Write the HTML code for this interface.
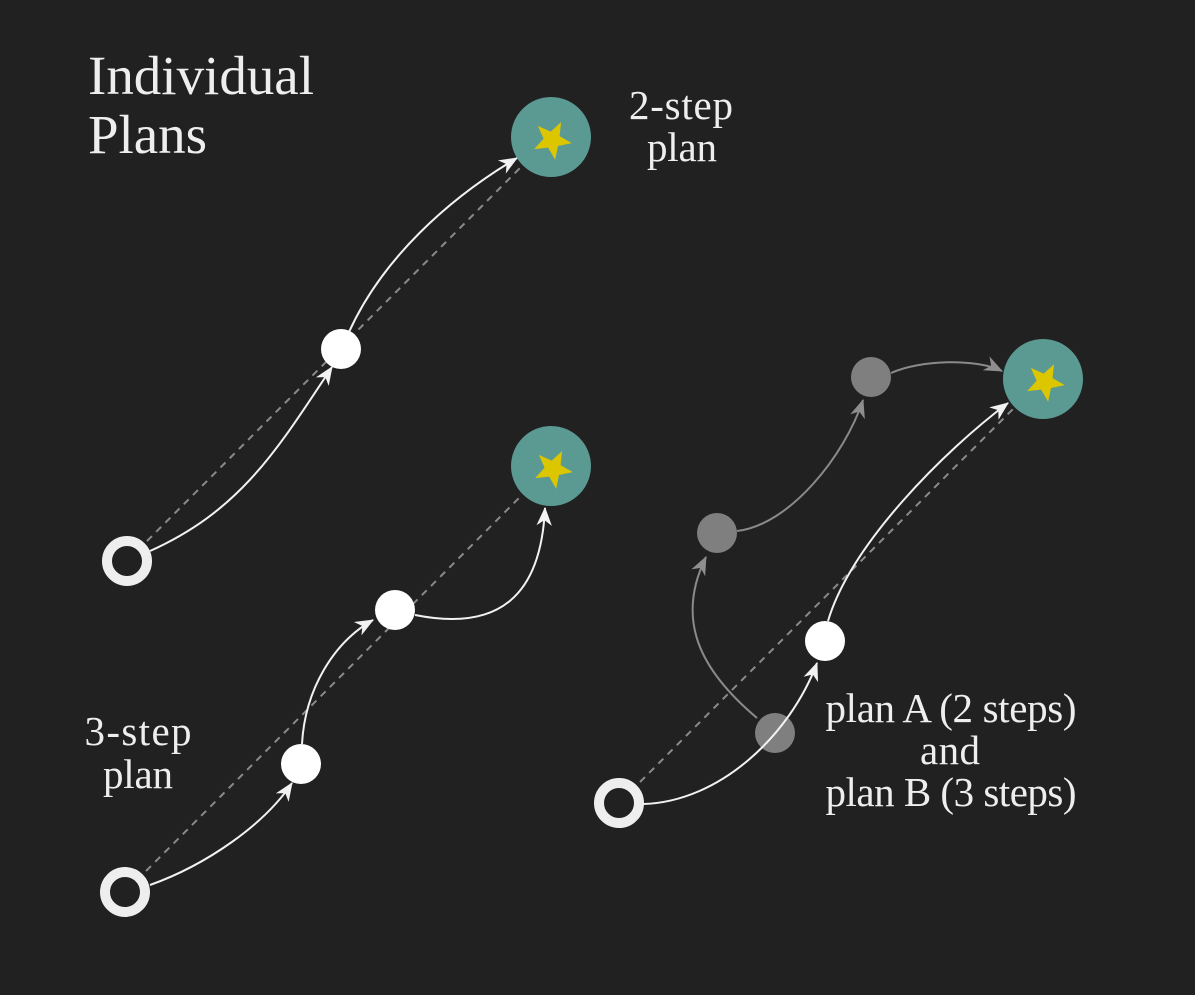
<!DOCTYPE html>
<html>
<head>
<meta charset="utf-8">
<style>
  html, body { margin:0; padding:0; background:#212121; }
  body { width:1195px; height:995px; overflow:hidden; }
  svg { display:block; }
  text { font-family: "Liberation Serif", serif; fill:#eeeeee; }
</style>
</head>
<body>
<svg width="1195" height="995" viewBox="0 0 1195 995" xmlns="http://www.w3.org/2000/svg">
  <defs>
    <marker id="aw" markerWidth="22" markerHeight="22" refX="0" refY="0" viewBox="-18 -9 20 18" markerUnits="userSpaceOnUse" orient="auto">
      <path d="M1,0 L-16,-7 L-11,0 L-16,7 Z" fill="#f2f2f2"/>
    </marker>
    <marker id="ag" markerWidth="22" markerHeight="22" refX="0" refY="0" viewBox="-18 -9 20 18" markerUnits="userSpaceOnUse" orient="auto">
      <path d="M1,0 L-16,-7 L-11,0 L-16,7 Z" fill="#8e8e8e"/>
    </marker>
  </defs>

  <rect x="0" y="0" width="1195" height="995" fill="#212121"/>

  <!-- Titles / labels -->
  <text x="88" y="94" font-size="55" textLength="226">Individual</text>
  <text x="88" y="153" font-size="55" textLength="119">Plans</text>

  <text x="681" y="119" font-size="41" text-anchor="middle" textLength="104">2-step</text>
  <text x="682" y="161" font-size="41" text-anchor="middle" textLength="70">plan</text>

  <text x="138" y="745" font-size="41" text-anchor="middle" textLength="107">3-step</text>
  <text x="138" y="788" font-size="41" text-anchor="middle" textLength="70">plan</text>

  <text x="951" y="722" font-size="41" text-anchor="middle" textLength="251">plan A (2 steps)</text>
  <text x="950" y="764" font-size="41" text-anchor="middle" textLength="60">and</text>
  <text x="951" y="806" font-size="41" text-anchor="middle" textLength="251">plan B (3 steps)</text>

  <!-- dashed direct lines -->
  <g stroke="#8a8a8a" stroke-width="2" stroke-dasharray="7 6" fill="none">
    <line x1="147" y1="541" x2="525" y2="163"/>
    <line x1="146" y1="871" x2="525" y2="492"/>
    <line x1="640" y1="782" x2="1017" y2="405"/>
  </g>

  <!-- gray plan B curves -->
  <g stroke="#8a8a8a" stroke-width="2" fill="none">
    <path d="M757,718 C700,670 675,620 706,557" marker-end="url(#ag)"/>
    <path d="M737,531 C790,525 845,455 863,400" marker-end="url(#ag)"/>
    <path d="M891,373 C920,360 975,358 1002,371" marker-end="url(#ag)"/>
  </g>
  <g fill="#7f7f7f">
    <circle cx="775" cy="733" r="20"/>
    <circle cx="717" cy="533" r="20"/>
    <circle cx="871" cy="377" r="20"/>
  </g>

  <!-- white solid curves -->
  <g stroke="#f2f2f2" stroke-width="2" fill="none">
    <path d="M150,551 C241,510 277,450 332,367" marker-end="url(#aw)"/>
    <path d="M349,332 C382,259 448,199 517,158" marker-end="url(#aw)"/>
    <path d="M150,885 C206,865 264,825 292,783" marker-end="url(#aw)"/>
    <path d="M302,744 C305,689 334,642 373,620" marker-end="url(#aw)"/>
    <path d="M415,615 C500,632 541,595 545,508" marker-end="url(#aw)"/>
    <path d="M643,804 C720,802 790,735 817,663" marker-end="url(#aw)"/>
    <path d="M828,621 C851,544 944,451 1008,403" marker-end="url(#aw)"/>
  </g>

  <!-- white intermediate nodes -->
  <g fill="#ffffff">
    <circle cx="341" cy="349" r="20"/>
    <circle cx="301" cy="764" r="20"/>
    <circle cx="395" cy="610" r="20"/>
    <circle cx="825" cy="641" r="20"/>
  </g>

  <!-- start rings -->
  <g stroke="#eeeeee" stroke-width="10" fill="#212121">
    <circle cx="127" cy="561" r="20"/>
    <circle cx="125" cy="892" r="20"/>
    <circle cx="619" cy="803" r="20"/>
  </g>

  <!-- goals -->
  <g fill="#5b9a92">
    <circle cx="551" cy="137" r="40"/>
    <circle cx="551" cy="466" r="40"/>
    <circle cx="1043" cy="379" r="40"/>
  </g>
  <g fill="#dcc600">
    <polygon transform="translate(552,140)" points="9.08,-17.82 7.57,-3.86 19.75,3.13 6.01,6.01 3.13,19.75 -3.86,7.57 -17.82,9.08 -8.4,-1.33 -14.14,-14.14 -1.33,-8.4"/>
    <polygon transform="translate(553,469)" points="9.08,-17.82 7.57,-3.86 19.75,3.13 6.01,6.01 3.13,19.75 -3.86,7.57 -17.82,9.08 -8.4,-1.33 -14.14,-14.14 -1.33,-8.4"/>
    <polygon transform="translate(1045,382)" points="9.08,-17.82 7.57,-3.86 19.75,3.13 6.01,6.01 3.13,19.75 -3.86,7.57 -17.82,9.08 -8.4,-1.33 -14.14,-14.14 -1.33,-8.4"/>
  </g>
</svg>
</body>
</html>
